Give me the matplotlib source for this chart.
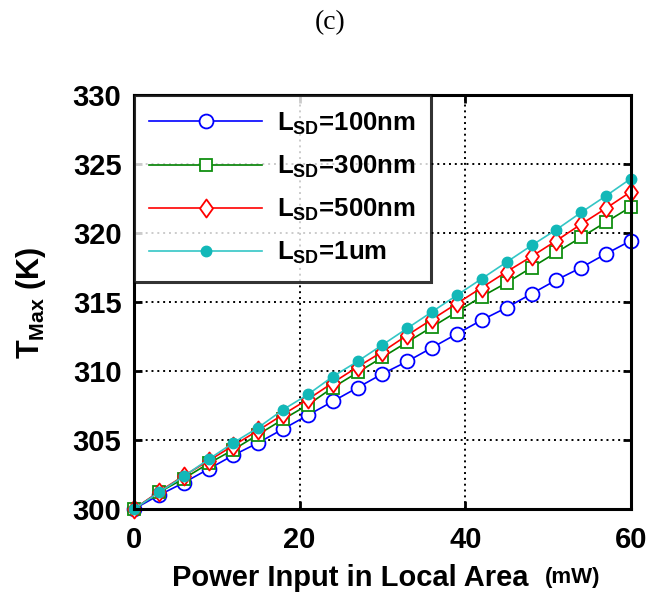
import matplotlib
matplotlib.use("Agg")
import matplotlib.pyplot as plt
from matplotlib.path import Path

plt.rcParams['font.family'] = ['Liberation Sans', 'DejaVu Sans']
plt.rcParams['mathtext.fontset'] = 'custom'
plt.rcParams['mathtext.rm'] = 'Liberation Sans:bold'
plt.rcParams['mathtext.bf'] = 'Liberation Sans:bold'
plt.rcParams['mathtext.it'] = 'Liberation Sans:bold'

# Power input (mW)
power = [0, 3, 6, 9, 12, 15, 18, 21, 24, 27, 30, 33, 36, 39, 42, 45, 48, 51, 54, 57, 60]

# Maximum temperature (K) for each source/drain length
t_100nm = [300.0, 301.0, 301.9, 302.9, 303.9, 304.8, 305.8, 306.8, 307.8, 308.8, 309.8,
           310.7, 311.7, 312.7, 313.7, 314.6, 315.6, 316.6, 317.5, 318.5, 319.45]
t_300nm = [300.0, 301.2, 302.2, 303.3, 304.3, 305.4, 306.5, 307.55, 308.8, 309.9, 311.0,
           312.1, 313.2, 314.3, 315.4, 316.4, 317.5, 318.6, 319.7, 320.8, 321.9]
t_500nm = [300.0, 301.25, 302.4, 303.5, 304.6, 305.7, 306.85, 307.95, 309.15, 310.3, 311.4,
           312.6, 313.75, 314.9, 316.05, 317.2, 318.3, 319.45, 320.65, 321.8, 323.0]
t_1um = [300.0, 301.2, 302.37, 303.6, 304.8, 305.9, 307.2, 308.3, 309.6, 310.7, 311.9,
         313.1, 314.3, 315.5, 316.7, 317.9, 319.1, 320.25, 321.5, 322.7, 323.95]

labels = [r"$\mathregular{L_{SD}}$=100nm", r"$\mathregular{L_{SD}}$=300nm",
          r"$\mathregular{L_{SD}}$=500nm", r"$\mathregular{L_{SD}}$=1um"]
x_ticks = [0, 20, 40, 60]
y_ticks = [300, 305, 310, 315, 320, 325, 330]

# slightly tall diamond
tall_diamond = Path([(0, 1), (0.72, 0), (0, -1), (-0.72, 0), (0, 1)],
                    [Path.MOVETO, Path.LINETO, Path.LINETO, Path.LINETO, Path.CLOSEPOLY])

fig = plt.figure(figsize=(6.51, 5.95), dpi=100)
ax = fig.add_axes([0.2058, 0.1445, 0.7635, 0.6958])

ax.plot(power, t_100nm, color='#0000FF', lw=1.2, marker='o', ms=10,
        mfc='white', mec='#0000FF', mew=1.3, label=labels[0], clip_on=False)
ax.plot(power, t_300nm, color='#008000', lw=1.2, marker='s', ms=8.5,
        mfc='white', mec='#109010', mew=1.3, label=labels[1], clip_on=False)
ax.plot(power, t_500nm, color='#FF0000', lw=1.2, marker=tall_diamond, ms=13,
        mfc='white', mec='#FF0000', mew=1.3, label=labels[2], clip_on=False)
ax.plot(power, t_1um, color='#33C6C6', lw=1.2, marker='o', ms=7.5,
        mfc='#12B8B8', mec='#12B8B8', mew=1.0, label=labels[3], clip_on=False)

ax.set_xlim(0, 60)
ax.set_ylim(300, 330)
ax.set_xticks(x_ticks)
ax.set_yticks(y_ticks)
ax.tick_params(direction='in', length=6, width=2, top=True, right=True, labelsize=21)
ax.tick_params(axis='x', pad=12)
ax.tick_params(axis='y', pad=9)
for lab in ax.get_xticklabels() + ax.get_yticklabels():
    lab.set_fontweight('bold')
for sp in ax.spines.values():
    sp.set_linewidth(2.2)
ax.grid(True, color='black', linestyle=(0, (1, 2)), linewidth=1.4)
ax.set_axisbelow(True)

fig.text(0.048, 0.492, r"$\mathregular{T_{Max}}$ (K)", fontsize=22, fontweight='bold',
         rotation=90, ha='center', va='center')
fig.text(0.538, 0.029, "Power Input in Local Area", fontsize=21, fontweight='bold',
         ha='center', va='center')
fig.text(0.88, 0.029, "(mW)", fontsize=16, fontweight='bold', ha='center', va='center')

leg = ax.legend(loc='upper left', fontsize=18.5, frameon=True, fancybox=False,
                borderaxespad=0, handlelength=4.4, handletextpad=0.55,
                labelspacing=0.66, borderpad=0.6, markerscale=1.0)
leg.get_frame().set_edgecolor('black')
leg.get_frame().set_linewidth(2.2)
for t in leg.get_texts():
    t.set_fontweight('bold')

fig.text(0.507, 0.962, "(c)", fontsize=20, family='Liberation Serif', ha='center', va='center')

fig.savefig("out.png", dpi=100)
